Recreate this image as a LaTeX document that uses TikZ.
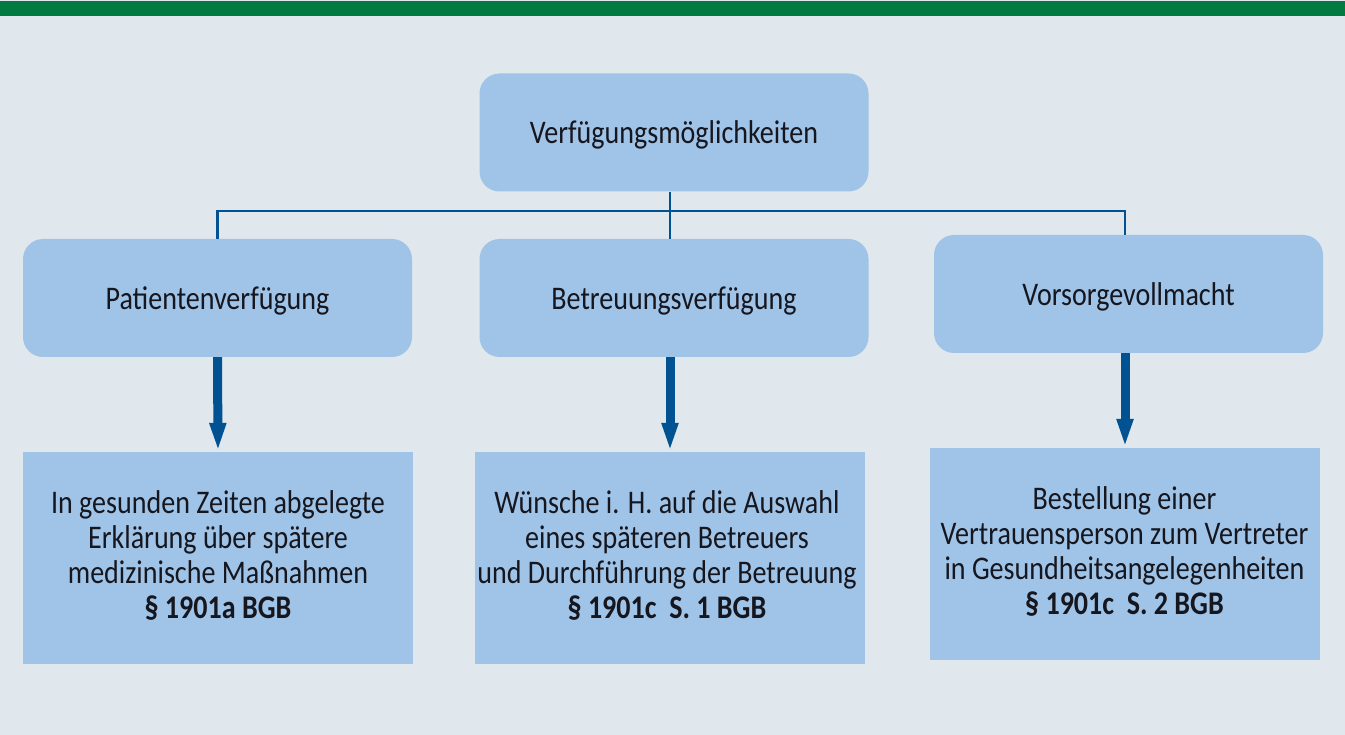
\documentclass[tikz,border=0pt]{standalone}
\usepackage{fontspec}
\setmainfont[FakeStretch=0.85]{Carlito}
\usetikzlibrary{arrows.meta}
\definecolor{bg}{RGB}{224,231,237}
\definecolor{topgreen}{RGB}{0,122,64}
\definecolor{boxblue}{RGB}{160,196,232}
\definecolor{lineblue}{RGB}{0,82,147}
\definecolor{txt}{RGB}{22,22,30}
\tikzset{
  rbox/.style={draw=none, fill=boxblue, rounded corners=20pt, minimum width=389pt, minimum height=118pt, inner sep=0pt, text depth=0pt, text=txt, font=\fontsize{33}{35}\selectfont},
  sbox/.style={draw=none, fill=boxblue, minimum width=390pt, minimum height=212pt, inner sep=0pt, text=txt, align=center, font=\fontsize{33}{35}\selectfont},
  conn/.style={draw=lineblue, line width=2.8pt},
  bigarrow/.style={draw=lineblue, line width=9pt, -{Triangle[width=15pt,length=29pt]}}
}
\begin{document}
\begin{tikzpicture}[x=1pt,y=-1pt]
\useasboundingbox (0,0) rectangle (1345,735);
\fill[bg] (0,0) rectangle (1345,735);
\fill[topgreen] (0,1.5) rectangle (1345,16);
\node[rbox] (top) at (674,132.5) {Verfügungsmöglichkeiten};
\node[rbox] (pat) at (217.5,298) {Patientenverfügung};
\node[rbox] (bet) at (674,298) {Betreuungsverfügung};
\node[rbox] (vor) at (1128.5,294) {Vorsorgevollmacht};
\node[sbox] (patd) at (218,558) {};
\node[sbox] (betd) at (670,558) {};
\node[sbox] (vord) at (1124.5,554) {};
\node[text=txt, align=center, font=\fontsize{33}{35}\selectfont, inner sep=0pt] (patt) at (218,555) {In gesunden Zeiten abgelegte\\Erklärung über spätere\\medizinische Maßnahmen\\\textbf{§ 1901a BGB}};
\node[text=txt, align=center, font=\fontsize{33}{35}\selectfont, inner sep=0pt] (bett) at (667,555) {Wünsche i. H. auf die Auswahl\\eines späteren Betreuers\\und Durchführung der Betreuung\\\textbf{§ 1901c\ \ S. 1 BGB}};
\node[text=txt, align=center, font=\fontsize{33}{35}\selectfont, inner sep=0pt] (vordt) at (1124.5,551) {Bestellung einer\\Vertrauensperson zum Vertreter\\in Gesundheitsangelegenheiten\\\textbf{§ 1901c\ \ S. 2 BGB}};
\coordinate (topout) at ([xshift=-4pt]top.south);
\coordinate (betin) at ([xshift=-4pt]bet.north);
\coordinate (vorin) at ([xshift=-3.5pt]vor.north);
\coordinate (bus) at (topout |- 0,211);
\draw[conn] (topout) -- (bus);
\draw[conn] (pat.north) |- (bus) -| (vorin);
\draw[conn] (bus) -- (betin);
\draw[bigarrow] (pat.south) -- (patd.north);
\draw[bigarrow] ([xshift=-4pt]bet.south) -- ([xshift=-4pt]bet.south |- betd.north);
\draw[bigarrow] ([xshift=-3.5pt]vor.south) -- ([xshift=-3.5pt]vor.south |- vord.north);
\end{tikzpicture}
\end{document}
